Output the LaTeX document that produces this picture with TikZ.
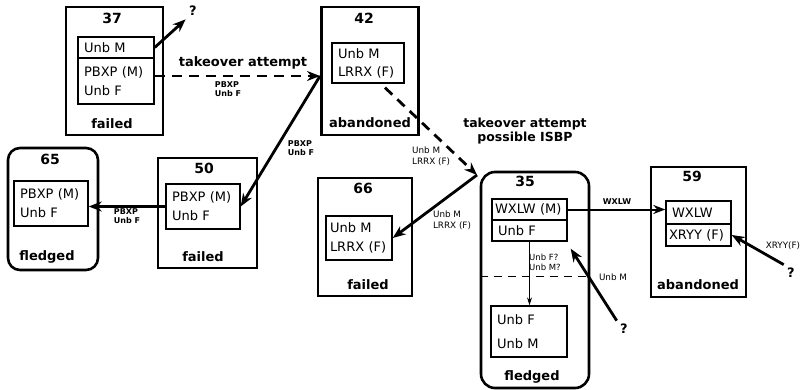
\documentclass[tikz,border=0pt]{standalone}
\usepackage{fontspec}
\setmainfont{DejaVu Sans}
\usetikzlibrary{arrows.meta}

\begin{document}
\begin{tikzpicture}[x=1pt,y=-1pt,
    nest/.style={draw,line width=2.6pt,inner sep=0pt},
    cell/.style={draw,line width=1.4pt,inner xsep=6pt,inner ysep=0pt,align=left,
      font=\fontsize{13}{19}\selectfont},
    num/.style={font=\fontsize{14}{15}\bfseries},
    fate/.style={font=\fontsize{13}{15}\bfseries},
    tag/.style={font=\fontsize{8.8}{11}\selectfont,align=left,inner sep=0pt},
    tagb/.style={tag,font=\fontsize{8}{9.5}\bfseries},
    mv/.style={-{Stealth[length=13pt,width=10pt]},line width=2.8pt},
  ]
    \useasboundingbox (0,0) rectangle (805,390);

    % Nests
    \node (n37) at (114.5,71) [nest,minimum width=97pt,minimum height=128pt] {};
    \node (n42) at (370,71) [nest,minimum width=97pt,minimum height=128pt] {};
    \node (n50) at (207.5,213) [nest,minimum width=99pt,minimum height=110pt] {};
    \node (n65) at (53,209) [nest,rounded corners=12pt,minimum width=90pt,minimum height=122pt] {};
    \node (n66) at (365,237) [nest,minimum width=94pt,minimum height=118pt] {};
    \node (n35) at (535,280) [nest,rounded corners=14pt,minimum width=108pt,minimum height=216pt] {};
    \node (n59) at (698.5,232) [nest,minimum width=95pt,minimum height=130pt] {};

    % Nest numbers and fates
    \node (l37) at (112,18) [num] {37};
    \node (l42) at (364,18) [num] {42};
    \node (l50) at (204,168) [num] {50};
    \node (l65) at (50,159) [num] {65};
    \node (l66) at (363,188) [num] {66};
    \node (l35) at (525,181) [num] {35};
    \node (l59) at (692,176) [num] {59};
    \node (f37) at (112,124) [fate] {failed};
    \node (f42) at (370,123) [fate] {abandoned};
    \node (f50) at (203,257) [fate] {failed};
    \node (f65) at (47,257) [fate] {fledged};
    \node (f66) at (368,285) [fate] {failed};
    \node (f35) at (532,377) [fate] {fledged};
    \node (f59) at (698,285) [fate] {abandoned};

    % Birds
    \node (n37a) at (116,47.5) [cell,text width=64pt,minimum height=21pt] {Unb M};
    \node (n37b) at (116,81) [cell,text width=64pt,minimum height=46pt] {PBXP (M)\\Unb F};
    \node (n42a) at (368,63) [cell,text width=60pt,minimum height=40pt,
      font=\fontsize{13}{18}\selectfont] {Unb M\\LRRX (F)};
    \node (n50a) at (203,206.5) [cell,text width=62pt,minimum height=45pt] {PBXP (M)\\Unb F};
    \node (n65a) at (51,203.5) [cell,text width=62pt,minimum height=45pt] {PBXP (M)\\Unb F};
    \node (n66a) at (359,238) [cell,inner xsep=4pt,text width=58pt,minimum height=44pt] {Unb M\\LRRX (F)};
    \node (n35a) at (529.5,209.5) [cell,inner xsep=3pt,text width=69pt,minimum height=21pt] {WXLW (M)};
    \node (n35b) at (529.5,230.5) [cell,text width=63pt,minimum height=21pt] {Unb F};
    \node (n35c) at (529,331.5) [cell,text width=64pt,minimum height=51pt,
      font=\fontsize{13}{24}\selectfont] {Unb F\\Unb M};
    \node (n59a) at (698.5,212.5) [cell,text width=53pt,minimum height=23pt] {WXLW};
    \node (n59b) at (698.5,235) [cell,inner xsep=3pt,text width=59pt,minimum height=22pt] {XRYY (F)};

    % Unknown birds
    \node (q1) at (193,11) [fate] {?};
    \node (q2) at (624,329) [fate] {?};
    \node (q3) at (791,273) [fate] {?};
    \coordinate (t1) at (320,76);
    \coordinate (t2) at (477,175);

    % Moves
    \path[mv] (n37a.east) edge (q1.south west);
    \path[mv,dash pattern=on 10pt off 7pt] (n37b.east |- t1) edge (t1);
    \path[mv] (t1) edge (n50a.east);
    \path[mv] (n50a.west) edge (n65a.east |- n50a.west);
    \path[mv,dash pattern=on 10pt off 7pt] ([xshift=17pt,yshift=-4pt]n42a.south) edge (t2);
    \path[mv] (t2) edge (n66a.east);
    \path[-{Stealth[length=12pt,width=9pt]},line width=2pt] (n35a.east) edge (n35a.east -| n59a.west);
    \path[-{Stealth[length=8pt,width=5pt]},line width=1pt] (n35b.south) edge (n35b.south |- n35c.north);
    \path[mv] (q2.north west) edge ([xshift=3pt,yshift=-7pt]n35b.south east);
    \path[mv] (q3.north west) edge (n59b.east);
    \draw[line width=1pt,dash pattern=on 8pt off 6pt] (n35.west |- 0,276) -- (n35.east |- 0,276);

    % Labels
    \node (k1) at (243,63) [fate] {takeover attempt};
    \node (k2) at (525,131) [font=\fontsize{12.5}{14}\bfseries,align=center] {takeover attempt\\possible ISBP};
    \node (m1) at (228,89) [tagb] {PBXP\\Unb F};
    \node (m2) at (301,148) [tagb] {PBXP\\Unb F};
    \node (m3) at (127,216) [tagb] {PBXP\\Unb F};
    \node (m4) at (412,156) [tag,anchor=west] {Unb M\\LRRX (F)};
    \node (m5) at (452,220) [tag] {Unb M\\LRRX (F)};
    \node (m6) at (617,202) [tagb] {WXLW};
    \node (m7) at (529,262) [tag,anchor=west,font=\fontsize{8.5}{10}\selectfont] {Unb F?\\Unb M?};
    \node (m8) at (613,277) [tag] {Unb M};
    \node (m9) at (783,246) [tag] {XRYY(F)};
\end{tikzpicture}
\end{document}
